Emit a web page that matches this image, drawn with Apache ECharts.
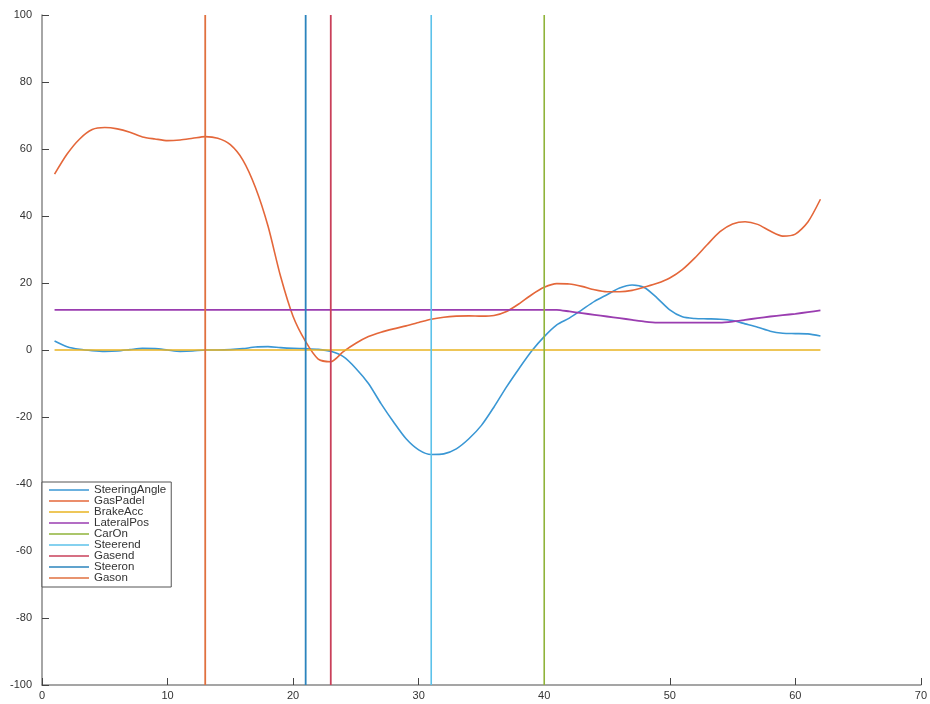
<!DOCTYPE html>
<html>
<head>
<meta charset="utf-8">
<script src="https://cdn.jsdelivr.net/npm/echarts@6/dist/echarts.min.js"></script>
<style>html,body{margin:0;padding:0;background:#fff}#c{width:930px;height:704px}</style>
</head>
<body>
<div id="c"></div>
<script>
var xs = [];
for (var i = 1; i <= 62; i++) xs.push(i);
var steeringAngle = [2.7,1.0,0.2,-0.2,-0.4,-0.3,0.1,0.5,0.4,0.0,-0.4,-0.3,0.0,0.0,0.1,0.4,0.9,1.0,0.7,0.5,0.4,0.2,-0.4,-2.0,-5.5,-10.0,-16.0,-21.5,-26.5,-29.8,-31.2,-31.0,-29.5,-26.5,-22.5,-17.0,-11.0,-5.5,-0.3,4.0,7.5,9.5,12.0,14.5,16.5,18.5,19.4,18.6,15.5,12.0,9.9,9.4,9.3,9.2,8.8,7.8,6.8,5.6,5.0,4.9,4.8,4.2];
var gasPadel = [52.5,58.5,63.0,65.8,66.4,66.0,65.0,63.6,63.0,62.5,62.7,63.2,63.7,63.2,61.3,56.7,48.5,37.0,22.0,10.0,2.5,-2.7,-3.5,-0.5,2.0,4.0,5.3,6.3,7.2,8.2,9.2,9.8,10.1,10.2,10.1,10.3,11.5,13.8,16.5,18.7,19.8,19.7,19.0,18.0,17.4,17.4,17.8,18.8,19.9,21.5,24.0,27.5,31.5,35.3,37.6,38.3,37.5,35.5,34.0,34.6,38.2,45.0];
var brakeAcc = [0,0,0,0,0,0,0,0,0,0,0,0,0,0,0,0,0,0,0,0,0,0,0,0,0,0,0,0,0,0,0,0,0,0,0,0,0,0,0,0,0,0,0,0,0,0,0,0,0,0,0,0,0,0,0,0,0,0,0,0,0,0];
var lateralPos = [12,12,12,12,12,12,12,12,12,12,12,12,12,12,12,12,12,12,12,12,12,12,12,12,12,12,12,12,12,12,12,12,12,12,12,12,12,12,12,12,12,11.5,11.0,10.5,10.0,9.5,9.0,8.5,8.2,8.2,8.2,8.2,8.2,8.2,8.5,9.0,9.5,10.0,10.4,10.8,11.3,11.8];
var carOnX = 40, steerendX = 31, gasendX = 23, steeronX = 21, gasonX = 13;
var vLo = -100, vHi = 100;
var xTicks = [0,10,20,30,40,50,60,70];
var yTicks = [-100,-80,-60,-40,-20,0,20,40,60,80,100];
var legendNames = ['SteeringAngle','GasPadel','BrakeAcc','LateralPos','CarOn','Steerend','Gasend','Steeron','Gason'];

function pairs(v){ return xs.map(function(x,i){return [x,v[i]];}); }
function vline(x){ return [[x,vLo],[x,vHi]]; }

var cols = {
  SteeringAngle:'#3a97d4', GasPadel:'#e4673a', BrakeAcc:'#e9b422', LateralPos:'#9a3db0',
  CarOn:'#8fb33a', Steerend:'#5cc2ea', Gasend:'#c9405a', Steeron:'#2b84bd', Gason:'#e0703f'
};
function mk(name, data, w, smooth){
  return {name:name, type:'line', data:data, showSymbol:false, symbol:'none', smooth:smooth||false,
    lineStyle:{color:cols[name], width:w}, itemStyle:{color:cols[name]}, animation:false, z:2};
}
var series = [
  mk('SteeringAngle', pairs(steeringAngle), 1.6, 0.25),
  mk('GasPadel', pairs(gasPadel), 1.6, 0.25),
  mk('BrakeAcc', pairs(brakeAcc), 1.4),
  mk('LateralPos', pairs(lateralPos), 1.8, 0.2),
  mk('CarOn', vline(carOnX), 1.6),
  mk('Steerend', vline(steerendX), 1.6),
  mk('Gasend', vline(gasendX), 1.8),
  mk('Steeron', vline(steeronX), 1.8),
  mk('Gason', vline(gasonX), 1.8)
];

var chart = echarts.init(document.getElementById('c'), null, {renderer:'canvas'});
chart.setOption({
  animation:false,
  backgroundColor:'#fff',
  grid:{left:42, right:8, top:15, bottom:19, containLabel:false},
  xAxis:{type:'value', min:0, max:70, interval:10,
    axisLine:{onZero:false, lineStyle:{color:'#888', width:1.5}},
    axisTick:{inside:true, length:7, lineStyle:{color:'#444'}},
    axisLabel:{color:'#333', fontSize:11, fontFamily:'Liberation Sans', margin:5,
      formatter:function(v){return xTicks.indexOf(v)>=0?String(v):'';}},
    splitLine:{show:false}},
  yAxis:{type:'value', min:-100, max:100, interval:20,
    axisLine:{onZero:false, lineStyle:{color:'#888', width:1.5}},
    axisTick:{inside:true, length:7, lineStyle:{color:'#444'}},
    axisLabel:{color:'#333', fontSize:11, fontFamily:'Liberation Sans', margin:10,
      formatter:function(v){return yTicks.indexOf(v)>=0?String(v):'';}},
    splitLine:{show:false}},
  legend:{orient:'vertical', left:42, top:482, itemGap:-1, itemWidth:40, itemHeight:1.6,
    icon:'rect', padding:[2,5,3,7], borderColor:'#555', borderWidth:1, backgroundColor:'#fff',
    textStyle:{fontSize:11.5, lineHeight:11, color:'#333', fontFamily:'Liberation Sans'},
    data:legendNames},
  series:series
});
</script>
</body>
</html>
